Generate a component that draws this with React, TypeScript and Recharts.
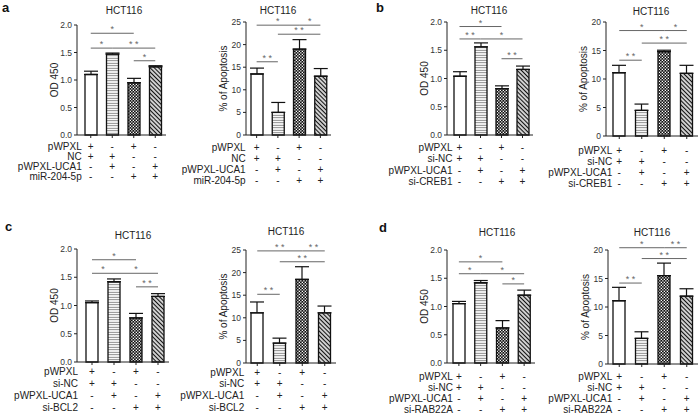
import React from "react";
import { BarChart, Bar, XAxis, YAxis, ErrorBar, Cell, ReferenceLine } from "recharts";

const FONT = "'Liberation Sans', Arial, Helvetica, sans-serif";
const AXIS = "#222";
const SIG = "#666";

// 그룹 및 조건 표 (+ / -)
const groups = ["G1", "G2", "G3", "G4"];
const pwpxlRow = ["+", "-", "+", "-"];
const controlRow = ["+", "+", "-", "-"];
const uca1Row = ["-", "+", "-", "+"];
const targetRow = ["-", "-", "+", "+"];
const conditionRows = [pwpxlRow, controlRow, uca1Row, targetRow];

const rowLabelsA = ["pWPXL", "NC", "pWPXL-UCA1", "miR-204-5p"];
const rowLabelsB = ["pWPXL", "si-NC", "pWPXL-UCA1", "si-CREB1"];
const rowLabelsC = ["pWPXL", "si-NC", "pWPXL-UCA1", "si-BCL2"];
const rowLabelsD = ["pWPXL", "si-NC", "pWPXL-UCA1", "si-RAB22A"];

const odTicks = [0, 0.5, 1, 1.5, 2];
const apoTicks25 = [0, 5, 10, 15, 20, 25];
const apoTicks20 = [0, 5, 10, 15, 20];

// 평균값 / 오차
const odA = [1.1, 1.47, 0.95, 1.24];
const odAErr = [0.06, 0.02, 0.08, 0.02];
const apoA = [13.5, 5.0, 19.0, 13.0];
const apoAErr = [1.3, 2.2, 2.1, 1.7];

const odB = [1.04, 1.56, 0.82, 1.16];
const odBErr = [0.08, 0.07, 0.05, 0.06];
const apoB = [11.1, 4.5, 14.8, 11.0];
const apoBErr = [1.3, 1.1, 0.25, 1.4];

const odC = [1.05, 1.42, 0.78, 1.16];
const odCErr = [0.03, 0.05, 0.08, 0.05];
const apoC = [11.1, 4.4, 18.5, 11.1];
const apoCErr = [2.4, 1.1, 2.8, 1.5];

const odD = [1.05, 1.42, 0.62, 1.2];
const odDErr = [0.04, 0.04, 0.13, 0.09];
const apoD = [11.1, 4.5, 15.5, 11.9];
const apoDErr = [2.35, 1.15, 2.2, 1.3];

// 유의성 표시: [시작 그룹, 끝 그룹, 높이, 별표]
type Bracket = [number, number, number, string];
const odABrackets: Bracket[] = [[0, 2, 1.85, "*"], [0, 1, 1.58, "*"], [1, 3, 1.58, "* *"], [2, 3, 1.35, "*"]];
const apoABrackets: Bracket[] = [[0, 2, 24.3, "*"], [2, 3, 24.3, "*"], [1, 3, 22.3, "* *"], [0, 1, 16.2, "* *"]];
const odBBrackets: Bracket[] = [[0, 2, 1.92, "*"], [0, 1, 1.7, "* *"], [1, 3, 1.7, "*"], [2, 3, 1.35, "* *"]];
const apoBBrackets: Bracket[] = [[0, 2, 18.5, "*"], [2, 3, 18.5, "*"], [1, 3, 16.3, "* *"], [0, 1, 13.3, "* *"]];
const odCBrackets: Bracket[] = [[0, 2, 1.81, "*"], [0, 1, 1.57, "*"], [1, 3, 1.57, "*"], [2, 3, 1.33, "* *"]];
const apoCBrackets: Bracket[] = [[0, 2, 24.8, "* *"], [2, 3, 24.8, "* *"], [1, 3, 22.4, "* *"], [0, 1, 15.2, "* *"]];
const odDBrackets: Bracket[] = [[0, 2, 1.79, "*"], [0, 1, 1.58, "*"], [1, 3, 1.58, "*"], [2, 3, 1.4, "*"]];
const apoDBrackets: Bracket[] = [[0, 2, 20.4, "*"], [2, 3, 20.4, "* *"], [1, 3, 18.5, "* *"], [0, 1, 14.2, "* *"]];

const BAR_FILLS = ["#ffffff", "url(#hstripe)", "url(#checker)", "url(#diag)"];

const TICK_SIZE = 3;
const TICK_MARGIN = 2;
const Y_AXIS_W = 45;
const M_TOP = 18;
const M_RIGHT = 2;
const X_AXIS_H = 62;

interface ChartLayout {
  plotLeft: number;
  plotRight: number;
  plotTop: number;
  plotBottom: number;
  padLeft: number;
  titleX: number;
  titleY: number;
  rowStart: number;
  rowGap: number;
  labelGap: number;
}

const layoutA1: ChartLayout = { plotLeft: 77, plotRight: 166, plotTop: 25, plotBottom: 135, padLeft: 3, titleX: 124, titleY: 14, rowStart: 11, rowGap: 10, labelGap: 9 };
const layoutA2: ChartLayout = { plotLeft: 246, plotRight: 331, plotTop: 22, plotBottom: 135, padLeft: 0, titleX: 278, titleY: 14, rowStart: 12, rowGap: 11, labelGap: 11 };
const layoutB1: ChartLayout = { plotLeft: 447, plotRight: 533, plotTop: 22, plotBottom: 135, padLeft: 2, titleX: 489, titleY: 14, rowStart: 12, rowGap: 11.5, labelGap: 7 };
const layoutB2: ChartLayout = { plotLeft: 606, plotRight: 698, plotTop: 22, plotBottom: 136, padLeft: 2, titleX: 651, titleY: 15, rowStart: 14, rowGap: 11, labelGap: 7 };
const layoutC1: ChartLayout = { plotLeft: 77, plotRight: 169, plotTop: 249, plotBottom: 362, padLeft: 4, titleX: 133, titleY: 238.5, rowStart: 9, rowGap: 12, labelGap: 14 };
const layoutC2: ChartLayout = { plotLeft: 246, plotRight: 336, plotTop: 250, plotBottom: 363, padLeft: 0, titleX: 286, titleY: 234.5, rowStart: 9, rowGap: 11.7, labelGap: 13 };
const layoutD1: ChartLayout = { plotLeft: 447, plotRight: 535, plotTop: 250, plotBottom: 363, padLeft: 1, titleX: 497, titleY: 235.5, rowStart: 13, rowGap: 11, labelGap: 6 };
const layoutD2: ChartLayout = { plotLeft: 608, plotRight: 698, plotTop: 250, plotBottom: 364, padLeft: 0, titleX: 652, titleY: 235.5, rowStart: 12, rowGap: 11.3, labelGap: 7 };

/**
 * 막대 아래 +/- 조건 표
 */
const CondTick = (props: any) => {
  const { x, y, index, rowLabels, layout } = props;
  const axisY = y - TICK_SIZE - TICK_MARGIN;
  return (
    <g>
      {conditionRows.map((row, r) => (
        <text
          key={r}
          x={x}
          y={axisY + layout.rowStart + r * layout.rowGap}
          textAnchor="middle"
          dominantBaseline="central"
          fontSize={10}
          fontFamily={FONT}
          fill="#222"
        >
          {row[index]}
        </text>
      ))}
      {index === 0 &&
        rowLabels.map((label: string, r: number) => (
          <text
            key={label}
            x={x - layout.labelGap}
            y={axisY + layout.rowStart + r * layout.rowGap}
            textAnchor="end"
            dominantBaseline="central"
            fontSize={10}
            fontFamily={FONT}
            fill="#222"
          >
            {label}
          </text>
        ))}
    </g>
  );
};

interface AssayChartProps {
  layout: ChartLayout;
  values: number[];
  errors: number[];
  brackets: Bracket[];
  yMax: number;
  yTicks: number[];
  yLabel: string;
  decimals: number;
  rowLabels: string[];
}

const AssayChart = ({ layout, values, errors, brackets, yMax, yTicks, yLabel, decimals, rowLabels }: AssayChartProps) => {
  const data = groups.map((g, i) => ({ group: g, value: values[i], err: [0, errors[i]] }));
  const plotW = layout.plotRight - layout.plotLeft;
  const plotH = layout.plotBottom - layout.plotTop;

  return (
    <div style={{ position: "absolute", left: layout.plotLeft - Y_AXIS_W, top: layout.plotTop - M_TOP }}>
      <BarChart
        width={Y_AXIS_W + plotW + M_RIGHT}
        height={M_TOP + plotH + X_AXIS_H}
        data={data}
        margin={{ top: M_TOP, right: M_RIGHT, left: 0, bottom: 0 }}
      >
        <XAxis
          dataKey="group"
          height={X_AXIS_H}
          padding={{ left: layout.padLeft, right: 0 }}
          tickSize={TICK_SIZE}
          tickMargin={TICK_MARGIN}
          stroke={AXIS}
          interval={0}
          tick={(p: any) => <CondTick {...p} rowLabels={rowLabels} layout={layout} />}
        />
        <YAxis
          width={Y_AXIS_W}
          domain={[0, yMax]}
          ticks={yTicks}
          interval={0}
          tickSize={TICK_SIZE}
          tickMargin={TICK_MARGIN}
          stroke={AXIS}
          tick={{ fontSize: 8.5, fill: "#333", fontFamily: FONT }}
          tickFormatter={(v: number) => v.toFixed(decimals)}
          label={{
            value: yLabel,
            angle: -90,
            position: "insideLeft",
            offset: Y_AXIS_W - 23,
            style: { textAnchor: "middle", fontSize: 10, fill: "#222", fontFamily: FONT },
          }}
        />
        <Bar dataKey="value" barSize={12} stroke="#111" strokeWidth={1.3} isAnimationActive={false}>
          {data.map((d, i) => (
            <Cell key={d.group} fill={BAR_FILLS[i]} />
          ))}
          <ErrorBar dataKey="err" width={7} stroke="#111" strokeWidth={1.2} direction="y" />
        </Bar>
        {brackets.map(([a, b, y, s], i) => (
          <ReferenceLine
            key={i}
            segment={[
              { x: groups[a], y },
              { x: groups[b], y },
            ]}
            stroke={SIG}
            strokeWidth={1}
            ifOverflow="visible"
            label={{ value: s, position: "top", offset: 1, fill: SIG, fontSize: 9, fontFamily: FONT }}
          />
        ))}
      </BarChart>
    </div>
  );
};

const PatternDefs = () => (
  <svg width={0} height={0} style={{ position: "absolute" }}>
    <defs>
      <pattern id="hstripe" width="4" height="2.5" patternUnits="userSpaceOnUse">
        <rect width="4" height="2.5" fill="#fff" />
        <line x1="0" y1="1.25" x2="4" y2="1.25" stroke="#777" strokeWidth="0.9" />
      </pattern>
      <pattern id="checker" width="3" height="3" patternUnits="userSpaceOnUse">
        <rect width="3" height="3" fill="#111" />
        <rect x="0.2" y="0.2" width="1.3" height="1.3" fill="#fff" />
        <rect x="1.7" y="1.7" width="1.3" height="1.3" fill="#fff" />
      </pattern>
      <pattern id="diag" width="4" height="3" patternUnits="userSpaceOnUse" patternTransform="rotate(45)">
        <rect width="4" height="3" fill="#fff" />
        <line x1="0" y1="1.5" x2="4" y2="1.5" stroke="#111" strokeWidth="1.4" />
      </pattern>
    </defs>
  </svg>
);

const layouts = [layoutA1, layoutA2, layoutB1, layoutB2, layoutC1, layoutC2, layoutD1, layoutD2];

export default function App() {
  return (
    <div style={{ position: "absolute", left: 0, top: 0, width: 700, height: 414, background: "#fff", overflow: "hidden" }}>
      <style>{`.recharts-surface{overflow:visible}`}</style>
      <PatternDefs />

      <AssayChart layout={layoutA1} values={odA} errors={odAErr} brackets={odABrackets} yMax={2} yTicks={odTicks} yLabel="OD 450" decimals={1} rowLabels={rowLabelsA} />
      <AssayChart layout={layoutA2} values={apoA} errors={apoAErr} brackets={apoABrackets} yMax={25} yTicks={apoTicks25} yLabel="% of Apoptosis" decimals={0} rowLabels={rowLabelsA} />
      <AssayChart layout={layoutB1} values={odB} errors={odBErr} brackets={odBBrackets} yMax={2} yTicks={odTicks} yLabel="OD 450" decimals={1} rowLabels={rowLabelsB} />
      <AssayChart layout={layoutB2} values={apoB} errors={apoBErr} brackets={apoBBrackets} yMax={20} yTicks={apoTicks20} yLabel="% of Apoptosis" decimals={0} rowLabels={rowLabelsB} />
      <AssayChart layout={layoutC1} values={odC} errors={odCErr} brackets={odCBrackets} yMax={2} yTicks={odTicks} yLabel="OD 450" decimals={1} rowLabels={rowLabelsC} />
      <AssayChart layout={layoutC2} values={apoC} errors={apoCErr} brackets={apoCBrackets} yMax={25} yTicks={apoTicks25} yLabel="% of Apoptosis" decimals={0} rowLabels={rowLabelsC} />
      <AssayChart layout={layoutD1} values={odD} errors={odDErr} brackets={odDBrackets} yMax={2} yTicks={odTicks} yLabel="OD 450" decimals={1} rowLabels={rowLabelsD} />
      <AssayChart layout={layoutD2} values={apoD} errors={apoDErr} brackets={apoDBrackets} yMax={20} yTicks={apoTicks20} yLabel="% of Apoptosis" decimals={0} rowLabels={rowLabelsD} />

      {/* 제목 및 패널 문자 */}
      <svg width={700} height={414} style={{ position: "absolute", left: 0, top: 0, pointerEvents: "none" }}>
        {layouts.map((l, i) => (
          <text key={i} x={l.titleX} y={l.titleY} textAnchor="middle" fontSize={10} fontFamily={FONT} fill="#222">
            HCT116
          </text>
        ))}
        <text x={2} y={12} fontSize={13} fontWeight="bold" fontFamily={FONT} fill="#111">a</text>
        <text x={376} y={12} fontSize={13} fontWeight="bold" fontFamily={FONT} fill="#111">b</text>
        <text x={5} y={231} fontSize={13} fontWeight="bold" fontFamily={FONT} fill="#111">c</text>
        <text x={379} y={232} fontSize={13} fontWeight="bold" fontFamily={FONT} fill="#111">d</text>
      </svg>
    </div>
  );
}
